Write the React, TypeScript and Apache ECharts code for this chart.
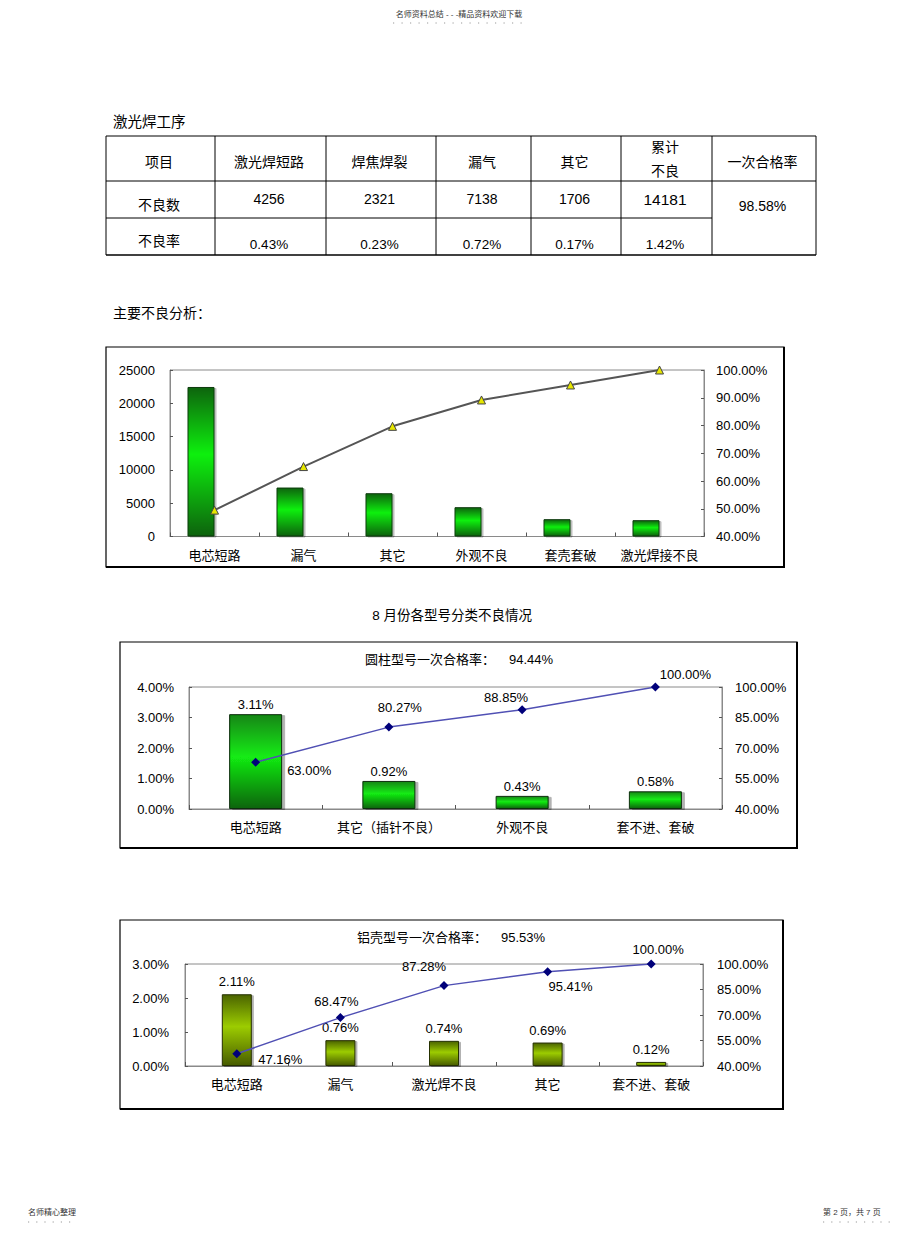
import React, { useEffect, useRef } from "react";
import * as echarts from "echarts";

const FONT = '"Liberation Sans", "Noto Sans CJK SC", sans-serif';

// ---- Table data ----
const tableHeaders = ["项目", "激光焊短路", "焊焦焊裂", "漏气", "其它", "累计\n不良", "一次合格率"];
const countRowLabel = "不良数";
const rateRowLabel = "不良率";
const defectCounts = ["4256", "2321", "7138", "1706", "14181"];
const defectRates = ["0.43%", "0.23%", "0.72%", "0.17%", "1.42%"];
const firstPassYield = "98.58%";

// ---- Chart 1: 主要不良分析 ----
const c1Categories = ["电芯短路", "漏气", "其它", "外观不良", "套壳套破", "激光焊接不良"];
const c1Counts = [22450, 7350, 6500, 4400, 2600, 2450];
const c1Cumulative = [49.5, 65.2, 79.7, 89.2, 94.6, 100];
const c1LeftTicks = { min: 0, max: 25000, interval: 5000 };
const c1RightTicks = { min: 40, max: 100, interval: 10 };

// ---- Chart 2: 圆柱型号 ----
const c2Title = "圆柱型号一次合格率：";
const c2Yield = "94.44%";
const c2Categories = ["电芯短路", "其它（插针不良）", "外观不良", "套不进、套破"];
const c2Rates = [3.11, 0.92, 0.43, 0.58];
const c2Cumulative = [63.0, 80.27, 88.85, 100.0];

// ---- Chart 3: 铝壳型号 ----
const c3Title = "铝壳型号一次合格率：";
const c3Yield = "95.53%";
const c3Categories = ["电芯短路", "漏气", "激光焊不良", "其它", "套不进、套破"];
const c3Rates = [2.11, 0.76, 0.74, 0.69, 0.12];
const c3Cumulative = [47.16, 68.47, 87.28, 95.41, 100.0];

// label placement (styles only)
const c2LineLabelPos = [
  { position: "right", offset: [22, 8] },
  { position: "top", offset: [11, -4] },
  { position: "top", offset: [-16, 4] },
  { position: "top", offset: [30, 3] },
];
const c3LineLabelPos = [
  { position: "right", offset: [12, 6] },
  { position: "top", offset: [-4, 0] },
  { position: "top", offset: [-20, -3] },
  { position: "bottom", offset: [23, -1] },
  { position: "top", offset: [7, 1] },
];

const pct = (v: number) => v.toFixed(2) + "%";

function txt(x: number, y: number, text: string, size = 14, align = "center", extra: any = {}) {
  return {
    type: "text",
    x,
    y,
    silent: true,
    style: {
      text,
      fontSize: size,
      fontFamily: FONT,
      fill: "#000",
      align,
      verticalAlign: "middle",
      ...extra,
    },
  };
}
function ln(x1: number, y1: number, x2: number, y2: number, w = 1, color = "#000", dash?: number[]) {
  return {
    type: "line",
    silent: true,
    shape: { x1, y1, x2, y2 },
    style: { stroke: color, lineWidth: w, lineDash: dash },
  };
}

export default function App() {
  const ref = useRef<HTMLDivElement>(null);
  useEffect(() => {
    if (!ref.current) return;
    const chart = echarts.init(ref.current, undefined, { renderer: "svg" });

    // table geometry
    const colX = [106, 215, 326, 436, 531, 621, 712, 816];
    const rowY = [136, 181, 218, 255];
    const centers = colX.slice(0, -1).map((x, i) => (x + colX[i + 1]) / 2 - 1.5);

    const graphics: any[] = [];
    // header / footer
    graphics.push(txt(459, 14, "名师资料总结 - - -精品资料欢迎下载", 8, "center", { fill: "#333" }));
    graphics.push(ln(393, 23, 528, 23, 1, "#999", [1.2, 7.3]));
    graphics.push(txt(28, 1212, "名师精心整理", 8, "left", { fill: "#333" }));
    graphics.push(ln(28, 1222, 77, 1222, 1, "#999", [1.2, 7]));
    graphics.push(txt(823, 1212, "第 2 页，共 7 页", 8, "left", { fill: "#333" }));
    graphics.push(ln(823, 1222, 894, 1222, 1, "#999", [1.2, 7]));

    // titles
    graphics.push(txt(113, 122, "激光焊工序", 14.5, "left"));
    graphics.push(txt(113, 313, "主要不良分析：", 14, "left"));
    graphics.push(txt(452, 615, "8 月份各型号分类不良情况", 13.5, "center"));

    // table lines
    graphics.push(ln(colX[0], rowY[0], colX[7], rowY[0], 1));
    graphics.push(ln(colX[0], rowY[1], colX[7], rowY[1], 1));
    graphics.push(ln(colX[0], rowY[2], colX[6], rowY[2], 1));
    graphics.push(ln(colX[0], rowY[3], colX[7], rowY[3], 1.5));
    colX.forEach((x) => graphics.push(ln(x, rowY[0], x, rowY[3], 1)));

    // table texts
    tableHeaders.forEach((h, i) => {
      if (h.includes("\n")) {
        const parts = h.split("\n");
        graphics.push(txt(centers[i], 147, parts[0], 14));
        graphics.push(txt(centers[i], 171, parts[1], 14));
      } else {
        graphics.push(txt(centers[i], 162, h, 14));
      }
    });
    graphics.push(txt(centers[0], 205, countRowLabel, 14));
    graphics.push(txt(centers[0], 241, rateRowLabel, 14));
    defectCounts.forEach((v, i) => {
      const last = i === defectCounts.length - 1;
      graphics.push(txt(centers[i + 1], 199, v, last ? 15.5 : 14));
    });
    defectRates.forEach((v, i) => graphics.push(txt(centers[i + 1], 244, v, 13.5)));
    graphics.push(txt(centers[6], 206, firstPassYield, 14));

    // chart boxes
    const box = (x1: number, y1: number, x2: number, y2: number) => {
      graphics.push({
        type: "rect",
        silent: true,
        shape: { x: x1, y: y1, width: x2 - x1, height: y2 - y1 },
        style: { fill: "none", stroke: "#000", lineWidth: 1.2 },
        z: -10,
      });
      graphics.push(ln(x2, y1, x2, y2 + 1, 2));
      graphics.push(ln(x1, y2, x2 + 1, y2, 2));
    };
    box(106, 347, 784, 567);
    box(120, 642, 797, 848);
    box(120, 920, 783, 1109);

    graphics.push(txt(365, 659, c2Title, 13, "left"));
    graphics.push(txt(509, 659, c2Yield, 13, "left"));
    graphics.push(txt(357, 937, c3Title, 13, "left"));
    graphics.push(txt(501, 937, c3Yield, 13, "left"));

    const grids = [
      { left: 170, top: 370, width: 534, height: 166.5 },
      { left: 189, top: 687, width: 533, height: 122 },
      { left: 185, top: 964, width: 518, height: 102 },
    ].map((g) => ({ ...g, show: true, borderColor: "#8a8a8a", borderWidth: 1, containLabel: false }));

    const catAxis = (gridIndex: number, data: string[]) => ({
      type: "category",
      gridIndex,
      data,
      boundaryGap: true,
      axisLine: { show: true, lineStyle: { color: "#8a8a8a", width: 1 } },
      axisTick: { show: true, inside: true, length: 4, lineStyle: { color: "#555" } },
      axisLabel: { color: "#000", fontSize: 13, fontFamily: FONT, margin: 12, interval: 0 },
      splitLine: { show: false },
    });
    const valAxis = (
      gridIndex: number,
      position: string,
      ticks: { min: number; max: number; interval: number },
      fmt: (v: number) => string,
      margin: number
    ) => ({
      type: "value",
      gridIndex,
      position,
      min: ticks.min,
      max: ticks.max,
      interval: ticks.interval,
      axisLine: { show: true, lineStyle: { color: "#8a8a8a", width: 1 } },
      axisTick: { show: true, inside: true, length: 3, lineStyle: { color: "#555" } },
      axisLabel: { color: "#000", fontSize: 13, fontFamily: FONT, margin, formatter: fmt },
      splitLine: { show: false },
    });

    const grad = (stops: [number, string][]) =>
      new echarts.graphic.LinearGradient(
        0,
        0,
        0,
        1,
        stops.map(([offset, color]) => ({ offset, color }))
      );

    const c1Grad = grad([
      [0, "#0b640b"],
      [0.45, "#08f008"],
      [1, "#0a620a"],
    ]);
    const c2Grad = grad([
      [0, "#138613"],
      [0.45, "#12ec12"],
      [1, "#0a640a"],
    ]);
    const c3Grad = grad([
      [0, "#4b6400"],
      [0.45, "#9ccc00"],
      [1, "#485c00"],
    ]);

    const labelStyle = { color: "#000", fontSize: 13, fontFamily: FONT };

    const option: any = {
      animation: false,
      backgroundColor: "#fff",
      textStyle: { fontFamily: FONT },
      grid: grids,
      xAxis: [catAxis(0, c1Categories), catAxis(1, c2Categories), catAxis(2, c3Categories)],
      yAxis: [
        valAxis(0, "left", c1LeftTicks, (v: number) => String(v), 15),
        valAxis(0, "right", c1RightTicks, pct, 12),
        valAxis(1, "left", { min: 0, max: 4, interval: 1 }, pct, 15),
        valAxis(1, "right", { min: 40, max: 100, interval: 15 }, pct, 13),
        valAxis(2, "left", { min: 0, max: 3, interval: 1 }, pct, 16),
        valAxis(2, "right", { min: 40, max: 100, interval: 15 }, pct, 14),
      ],
      series: [
        {
          type: "bar",
          xAxisIndex: 0,
          yAxisIndex: 0,
          data: c1Counts,
          barWidth: 27,
          barGap: "0%",
          itemStyle: {
            color: c1Grad,
            borderColor: "#0d3a0d",
            borderWidth: 1,
            shadowColor: "rgba(0,0,0,0.25)",
            shadowOffsetX: 2,
            shadowOffsetY: 1,
            shadowBlur: 0,
          },
        },
        {
          // empty companion series (the original chart leaves a slot beside each bar)
          type: "bar",
          xAxisIndex: 0,
          yAxisIndex: 0,
          data: [],
          barWidth: 27,
          barGap: "0%",
        },
        {
          type: "line",
          xAxisIndex: 0,
          yAxisIndex: 1,
          data: c1Cumulative,
          symbol: "triangle",
          symbolSize: 8,
          itemStyle: { color: "#e6e600", borderColor: "#444", borderWidth: 1 },
          lineStyle: { color: "#555", width: 2 },
          z: 5,
        },
        {
          type: "bar",
          xAxisIndex: 1,
          yAxisIndex: 2,
          data: c2Rates,
          barWidth: 53,
          itemStyle: {
            color: c2Grad,
            borderColor: "#0b2e0b",
            borderWidth: 1,
            shadowColor: "rgba(0,0,0,0.3)",
            shadowOffsetX: 3,
            shadowOffsetY: 1,
            shadowBlur: 0,
          },
          label: { show: true, position: "top", distance: 3, formatter: (p: any) => pct(p.value), ...labelStyle },
        },
        {
          type: "line",
          xAxisIndex: 1,
          yAxisIndex: 3,
          data: c2Cumulative.map((v, i) => ({
            value: v,
            label: { position: c2LineLabelPos[i].position, offset: c2LineLabelPos[i].offset },
          })),
          symbol: "diamond",
          symbolSize: 9,
          itemStyle: { color: "#00007a" },
          lineStyle: { color: "#5050b4", width: 1.5 },
          label: { show: true, distance: 5, formatter: (p: any) => pct(p.value), ...labelStyle },
          z: 5,
        },
        {
          type: "bar",
          xAxisIndex: 2,
          yAxisIndex: 4,
          data: c3Rates,
          barWidth: 30,
          itemStyle: {
            color: c3Grad,
            borderColor: "#263000",
            borderWidth: 1,
            shadowColor: "rgba(0,0,0,0.3)",
            shadowOffsetX: 2,
            shadowOffsetY: 1,
            shadowBlur: 0,
          },
          label: { show: true, position: "top", distance: 6, formatter: (p: any) => pct(p.value), ...labelStyle },
        },
        {
          type: "line",
          xAxisIndex: 2,
          yAxisIndex: 5,
          data: c3Cumulative.map((v, i) => ({
            value: v,
            label: { position: c3LineLabelPos[i].position, offset: c3LineLabelPos[i].offset },
          })),
          symbol: "diamond",
          symbolSize: 9,
          itemStyle: { color: "#00007a" },
          lineStyle: { color: "#5050b4", width: 1.5 },
          label: { show: true, distance: 5, formatter: (p: any) => pct(p.value), ...labelStyle },
          z: 5,
        },
      ],
      graphic: graphics,
    };

    chart.setOption(option);
    return () => chart.dispose();
  }, []);

  return (
    <div
      ref={ref}
      style={{ position: "absolute", left: 0, top: 0, width: 920, height: 1234, background: "#fff" }}
    />
  );
}
